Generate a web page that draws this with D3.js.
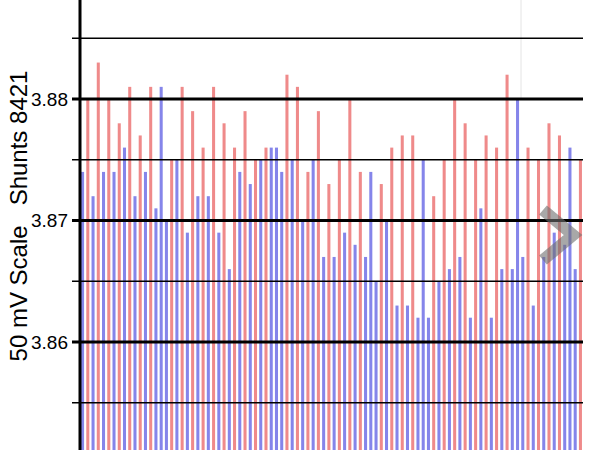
<!DOCTYPE html>
<meta charset='utf-8'>
<style>
body { margin: 0; background: #fff; }
text { font-family: 'Liberation Sans', Arial, sans-serif; fill: #000; }
.grid line { stroke: #000; }
</style>
<svg width='600' height='450'></svg>
<script src='https://cdnjs.cloudflare.com/ajax/libs/d3/7.8.5/d3.min.js'></script>
<script>
// readings, one per bar, left to right
const values = [
  3.874, 3.880, 3.872, 3.883, 3.874, 3.880, 3.874, 3.878, 3.876, 3.881,
  3.872, 3.877, 3.874, 3.881, 3.871, 3.881, 3.870, 3.875, 3.875, 3.881,
  3.869, 3.879, 3.872, 3.876, 3.872, 3.881, 3.869, 3.878, 3.866, 3.876,
  3.874, 3.879, 3.873, 3.875, 3.875, 3.876, 3.876, 3.876, 3.874, 3.882,
  3.875, 3.881, 3.870, 3.874, 3.875, 3.879, 3.867, 3.873, 3.867, 3.875,
  3.869, 3.880, 3.868, 3.874, 3.867, 3.874, 3.865, 3.873, 3.870, 3.876,
  3.863, 3.877, 3.863, 3.877, 3.862, 3.875, 3.862, 3.872, 3.865, 3.875,
  3.866, 3.880, 3.867, 3.878, 3.862, 3.875, 3.871, 3.877, 3.862, 3.876,
  3.866, 3.882, 3.866, 3.880, 3.867, 3.876, 3.863, 3.875, 3.867, 3.878,
  3.869, 3.877, 3.868, 3.876, 3.866, 3.875
];
// colour of each bar: r = red, b = blue
const kinds = [
  'b','r','b','r','b','r','b','r','b','r',
  'b','r','b','r','b','b','b','r','b','r',
  'b','r','b','r','b','r','b','r','b','r',
  'b','r','b','r','b','r','b','b','b','r',
  'b','r','b','r','b','r','b','r','b','r',
  'b','r','b','r','b','b','b','r','b','r',
  'b','r','b','r','b','b','b','r','b','r',
  'b','r','b','r','b','r','b','r','b','r',
  'b','r','b','b','b','r','b','r','b','r',
  'b','r','b','b','b','r'
];
const majorTicks = [3.86, 3.87, 3.88];
const minorTicks = [3.855, 3.865, 3.875, 3.885];
const yLabel = '50 mV Scale   Shunts 8421';

const colors = { r: '#ef8a8a', b: '#8585ea' };

const svg = d3.select('svg'),
    width = +svg.attr('width'),
    height = +svg.attr('height'),
    left = 80, right = 583;

const y = d3.scaleLinear()
    .domain([3.86, 3.88])
    .range([342, 99]);

const x = d3.scaleBand()
    .domain(d3.range(values.length))
    .range([left, right])
    .paddingInner(0.42)
    .paddingOuter(0.2);

// faint divider near the right
svg.append('line')
    .attr('x1', 521).attr('x2', 521)
    .attr('y1', 0).attr('y2', y(3.88))
    .attr('stroke', '#e4e4e4');

// bars run off the bottom of the view
svg.append('g')
  .selectAll('rect')
  .data(values)
  .join('rect')
    .attr('x', (d, i) => x(i))
    .attr('width', x.bandwidth())
    .attr('y', d => y(d))
    .attr('height', d => height - y(d))
    .attr('fill', (d, i) => colors[kinds[i]]);

// grid lines, thick on the labelled values
const grid = svg.append('g').attr('class', 'grid');
grid.selectAll('line.minor')
  .data(minorTicks)
  .join('line')
    .attr('class', 'minor')
    .attr('x1', left - 8).attr('x2', right)
    .attr('y1', d => y(d)).attr('y2', d => y(d))
    .attr('stroke-width', 1.5);
grid.selectAll('line.major')
  .data(majorTicks)
  .join('line')
    .attr('class', 'major')
    .attr('x1', left - 8).attr('x2', right)
    .attr('y1', d => y(d)).attr('y2', d => y(d))
    .attr('stroke-width', 3);

// axis line
svg.append('line')
    .attr('x1', left).attr('x2', left)
    .attr('y1', 0).attr('y2', height)
    .attr('stroke', '#000')
    .attr('stroke-width', 3);

svg.append('g')
  .selectAll('text')
  .data(majorTicks)
  .join('text')
    .attr('x', left - 12)
    .attr('y', d => y(d))
    .attr('dy', '0.36em')
    .attr('text-anchor', 'end')
    .style('font-size', '19px')
    .text(d => d3.format('.2f')(d));

svg.append('text')
    .attr('transform', `translate(27,${216}) rotate(-90)`)
    .attr('text-anchor', 'middle')
    .style('font-size', '24px')
    .style('white-space', 'pre')
    .text(yLabel);

// grey chevron overlay
svg.append('path')
    .attr('d', d3.line()([[543, 210], [573, 235], [543, 260]]))
    .attr('fill', 'none')
    .attr('stroke', 'rgba(110,110,110,0.6)')
    .attr('stroke-width', 12);
</script>
